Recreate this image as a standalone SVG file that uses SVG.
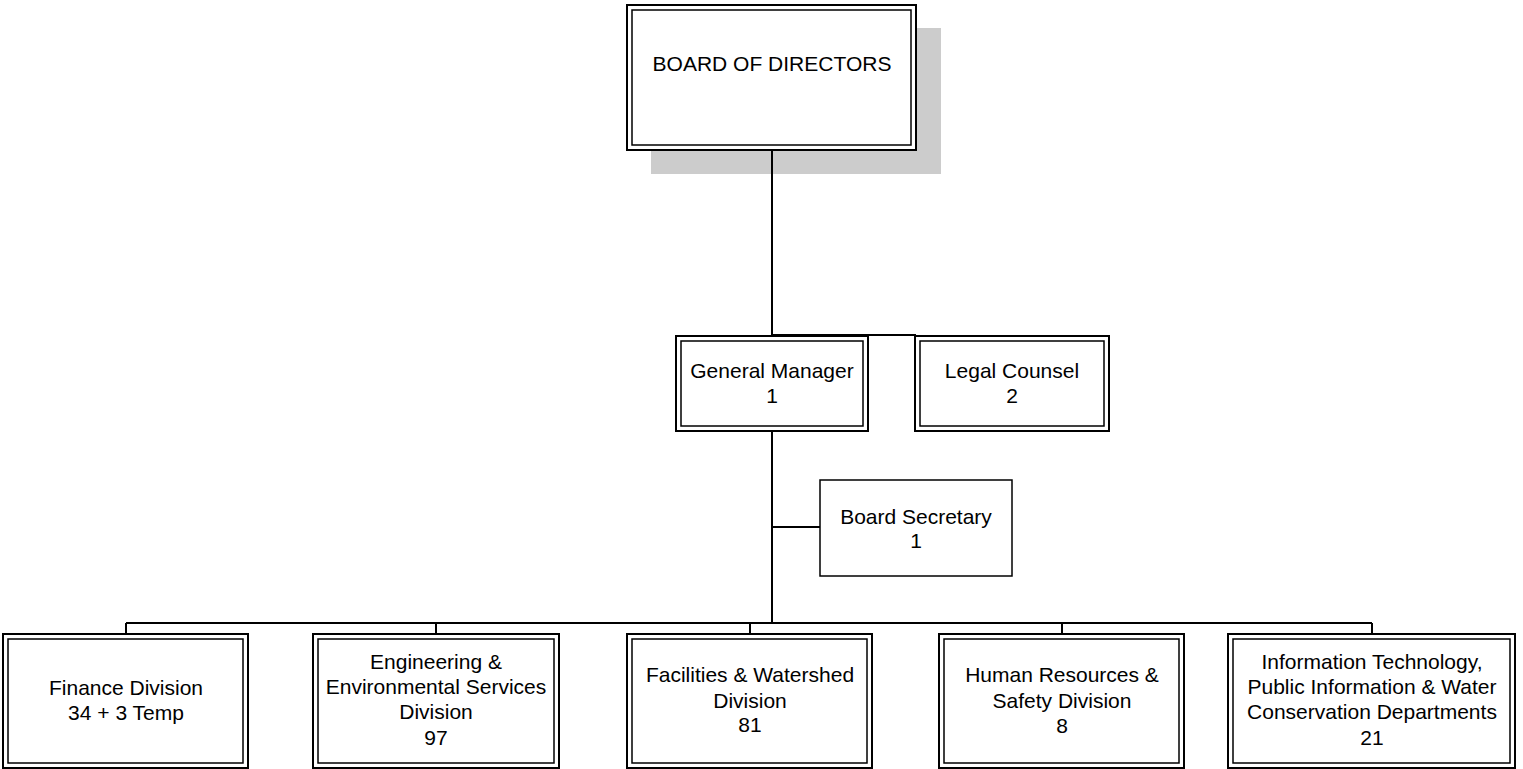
<svg xmlns="http://www.w3.org/2000/svg" width="1523" height="769" viewBox="0 0 1523 769">
<style>
.o{fill:#fff;stroke:#000;stroke-width:2}
.i{fill:none;stroke:#000;stroke-width:1.5}
.s{fill:#fff;stroke:#000;stroke-width:1.5}
.t{font-family:"Liberation Sans",Arial,sans-serif;font-size:21px;fill:#000;text-anchor:middle}
.c{stroke:#000;stroke-width:2;fill:none}
</style>
<rect width="1523" height="769" fill="#fff"/>
<g id="board">
<rect x="651" y="28" width="290" height="146" fill="#ccc"/>
<rect class="o" x="627" y="5" width="289" height="145"/>
<rect class="i" x="632" y="10" width="279" height="135"/>
<text class="t" x="772" y="71">BOARD OF DIRECTORS</text>
</g>
<g id="connectors">
<path class="c" d="M772 150V336M772 335H916M772 431V623M772 527H820M126 623H1372M126 623V634M436 623V634M750 623V634M1062 623V634M1372 623V634"/>
</g>
<g id="gm">
<rect class="o" x="676" y="336" width="192" height="95"/>
<rect class="i" x="681" y="341" width="182" height="85"/>
<text class="t" x="772" y="378">General Manager</text>
<text class="t" x="772" y="403">1</text>
</g>
<g id="legal">
<rect class="o" x="915" y="336" width="194" height="95"/>
<rect class="i" x="920" y="341" width="184" height="85"/>
<text class="t" x="1012" y="378">Legal Counsel</text>
<text class="t" x="1012" y="403">2</text>
</g>
<g id="secretary">
<rect class="s" x="820" y="480" width="192" height="96"/>
<text class="t" x="916" y="524">Board Secretary</text>
<text class="t" x="916" y="548">1</text>
</g>
<g id="finance">
<rect class="o" x="3" y="634" width="245" height="134"/>
<rect class="i" x="8" y="639" width="235" height="124"/>
<text class="t" x="126" y="695">Finance Division</text>
<text class="t" x="126" y="720">34 + 3 Temp</text>
</g>
<g id="engineering">
<rect class="o" x="313" y="634" width="246" height="134"/>
<rect class="i" x="318" y="639" width="236" height="124"/>
<text class="t" x="436" y="669">Engineering &amp;</text>
<text class="t" x="436" y="694">Environmental Services</text>
<text class="t" x="436" y="719">Division</text>
<text class="t" x="436" y="745">97</text>
</g>
<g id="facilities">
<rect class="o" x="627" y="634" width="245" height="134"/>
<rect class="i" x="632" y="639" width="235" height="124"/>
<text class="t" x="750" y="682">Facilities &amp; Watershed</text>
<text class="t" x="750" y="708">Division</text>
<text class="t" x="750" y="732">81</text>
</g>
<g id="hr">
<rect class="o" x="939" y="634" width="245" height="134"/>
<rect class="i" x="944" y="639" width="235" height="124"/>
<text class="t" x="1062" y="682">Human Resources &amp;</text>
<text class="t" x="1062" y="708">Safety Division</text>
<text class="t" x="1062" y="733">8</text>
</g>
<g id="it">
<rect class="o" x="1228" y="634" width="287" height="134"/>
<rect class="i" x="1233" y="639" width="277" height="124"/>
<text class="t" x="1372" y="669">Information Technology,</text>
<text class="t" x="1372" y="694">Public Information &amp; Water</text>
<text class="t" x="1372" y="719">Conservation Departments</text>
<text class="t" x="1372" y="745">21</text>
</g>
</svg>
